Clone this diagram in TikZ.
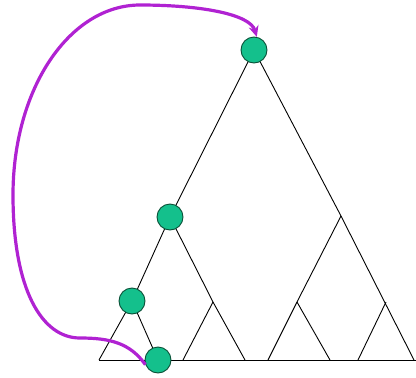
\documentclass[tikz,border=0pt]{standalone}
\usetikzlibrary{arrows.meta}
\definecolor{nodegreen}{RGB}{20,192,140}
\definecolor{nodeline}{RGB}{10,80,55}
\definecolor{arcpurple}{RGB}{176,34,210}
\tikzset{
  treenode/.style={circle, fill=nodegreen, draw=nodeline, line width=0.9bp, minimum size=26bp, inner sep=0pt},
  edge/.style={draw=black, line width=0.9bp},
  jump/.style={draw=arcpurple, line width=3.2bp, -{Stealth[length=11bp,width=10bp]}}
}
\begin{document}
\begin{tikzpicture}[x=1bp,y=-1bp]
\useasboundingbox (0,0) rectangle (416,378);
% branch points and leaves
\coordinate (L) at (99,360);
\coordinate (R) at (414,360);
\coordinate (lb) at (245,360);
\coordinate (B1) at (213,302);
\coordinate (b1l) at (183,360);
\coordinate (C) at (341,216);
\coordinate (cl) at (268,360);
\coordinate (C1) at (297,302);
\coordinate (c1r) at (330,360);
\coordinate (C2) at (386,302);
\coordinate (c2l) at (358,360);
\coordinate (base0) at (99,360);
\coordinate (base1) at (416,360);
% node positions
\coordinate (p1) at (254,50);
\coordinate (p2) at (170,217);
\coordinate (p3) at (132,301);
\coordinate (p4) at (158,360);
% edges
\draw[edge] (base0) -- (base1);
\draw[edge] (L) -- (p3) -- (p2) -- (p1) -- (C) -- (R);
\draw[edge] (p3) -- (p4);
\draw[edge] (p2) -- (B1) -- (lb);
\draw[edge] (B1) -- (b1l);
\draw[edge] (C) -- (C1) -- (cl);
\draw[edge] (C1) -- (c1r);
\draw[edge] (C2) -- (c2l);
% nodes
\node[treenode] (n1) at (p1) {};
\node[treenode] (n2) at (p2) {};
\node[treenode] (n3) at (p3) {};
\node[treenode] (n4) at (p4) {};
% purple arc
\draw[jump] (n4.200) .. controls (130,343) and (110,338) .. (80,338)
  .. controls (42,338) and (13,290) .. (13,195)
  .. controls (13,88) and (70,5) .. (140,5)
  .. controls (200,5) and (250,14) .. (n1.78);
\end{tikzpicture}
\end{document}
